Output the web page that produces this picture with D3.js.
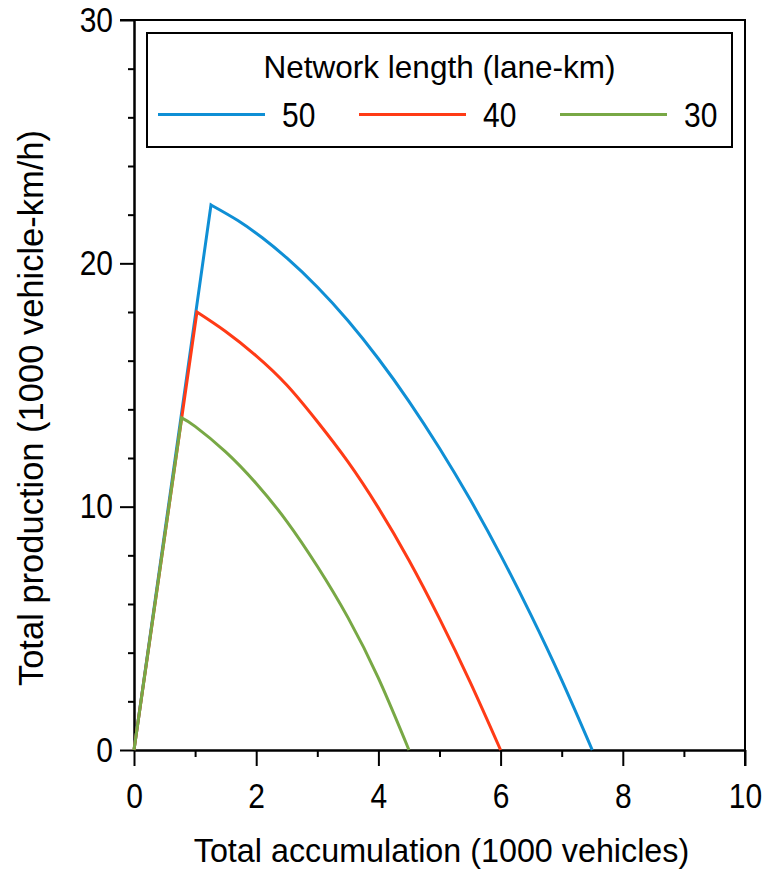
<!DOCTYPE html>
<html>
<head>
<meta charset="utf-8">
<script src="https://cdn.jsdelivr.net/npm/d3@7"></script>
<style>
  body { margin: 0; background: #fff; }
  svg { display: block; font-family: "Liberation Sans", Arial, sans-serif; }
  .digits { transform-box: fill-box; transform-origin: center; transform: scaleY(1.16); }
</style>
</head>
<body>
<div id="chart"></div>
<script>
// network length categories (lane-km)
const networkLengths = ["50", "40", "30"]
const seriesColors = ["#0f8fd5", "#ff3b16", "#78a845"]

// accumulation (1000 veh) / production (1000 veh-km/h)
const accum50 = [0, 1.26, 1.7, 2.1, 2.5, 3.0, 3.5, 4.0, 4.5, 5.0, 5.5, 6.0, 6.5, 7.0, 7.5]
const prod50 = [0, 22.4, 21.76, 21.05, 20.22, 19.03, 17.65, 16.08, 14.33, 12.4, 10.3, 8.01, 5.53, 2.87, 0]

const accum40 = [0, 1.03, 1.5, 2.0, 2.5, 3.0, 3.5, 4.0, 4.5, 5.0, 5.5, 6.0]
const prod40 = [0, 18.0, 17.2, 16.2, 15.0, 13.5, 11.85, 9.95, 7.8, 5.4, 2.8, 0]

const accum30 = [0, 0.78, 1.0, 1.5, 2.0, 2.5, 3.0, 3.5, 4.0, 4.5]
const prod30 = [0, 13.65, 13.3, 12.25, 10.95, 9.4, 7.55, 5.45, 2.95, 0]

const xTicks = [0, 2, 4, 6, 8, 10]
const xMinorTicks = [1, 3, 5, 7, 9]
const yTicks = [0, 10, 20, 30]
const yMinorTicks = [2, 4, 6, 8, 12, 14, 16, 18, 22, 24, 26, 28]

const legendTitle = "Network length (lane-km)"
const xTitle = "Total accumulation (1000 vehicles)"
const yTitle = "Total production (1000 vehicle-km/h)"

const width = 772
const height = 870
const margin = { top: 20, right: 27, bottom: 120, left: 134 }

const series = [
  { name: networkLengths[0], color: seriesColors[0], x: accum50, y: prod50 },
  { name: networkLengths[1], color: seriesColors[1], x: accum40, y: prod40 },
  { name: networkLengths[2], color: seriesColors[2], x: accum30, y: prod30 }
]

const svg = d3.select("#chart")
  .append("svg")
  .attr("width", width)
  .attr("height", height)

const x = d3.scaleLinear()
  .domain([0, 10])
  .range([margin.left, width - margin.right])

const y = d3.scaleLinear()
  .domain([0, 30])
  .range([height - margin.bottom, margin.top])

// frame on top and right (no ticks)
svg.append("path")
  .attr("d", `M${x(0) - 14},${y(30)}H${x(10)}V${y(0) + 16}`)
  .attr("fill", "none")
  .attr("stroke", "#000")
  .attr("stroke-width", 2)

const tickFont = "30px"

// x axis
const xAxis = svg.append("g")
  .attr("transform", `translate(0,${y(0)})`)
  .call(d3.axisBottom(x).tickValues(xTicks).tickSize(16).tickPadding(19).tickSizeOuter(0))
xAxis.append("g")
  .call(d3.axisBottom(x).tickValues(xMinorTicks).tickSize(7).tickFormat("").tickSizeOuter(0))

// y axis
const yAxis = svg.append("g")
  .attr("transform", `translate(${x(0)},0)`)
  .call(d3.axisLeft(y).tickValues(yTicks).tickSize(14).tickPadding(7).tickSizeOuter(0))
yAxis.append("g")
  .call(d3.axisLeft(y).tickValues(yMinorTicks).tickSize(6).tickFormat("").tickSizeOuter(0))

svg.selectAll(".domain, .tick line")
  .attr("stroke", "#000")
  .attr("stroke-width", 2)
svg.selectAll(".tick text")
  .attr("fill", "#000")
  .attr("class", "digits")
  .style("font-size", tickFont)
  .style("font-family", "'Liberation Sans', Arial, sans-serif")

// axis titles
svg.append("text")
  .attr("x", (x(0) + x(10)) / 2 + 2)
  .attr("y", 862)
  .attr("text-anchor", "middle")
  .style("font-size", "32.3px")
  .text(xTitle)

svg.append("text")
  .attr("transform", `translate(43,408) rotate(-90)`)
  .attr("text-anchor", "middle")
  .style("font-size", "34.5px")
  .text(yTitle)

// curves: straight rise to capacity, then smooth fall to jam
const rise = d3.line()
  .x(d => x(d[0]))
  .y(d => y(d[1]))
const fall = d3.line()
  .x(d => x(d[0]))
  .y(d => y(d[1]))
  .curve(d3.curveNatural)

const curveLayer = svg.append("g")
series.forEach(s => {
  const pts = s.x.map((v, i) => [v, s.y[i]])
  const d = rise(pts.slice(0, 2)) + fall(pts.slice(1)).replace(/^M/, "L")
  curveLayer.append("path")
    .attr("d", d)
    .attr("fill", "none")
    .attr("stroke", s.color)
    .attr("stroke-width", 3)
    .attr("stroke-linejoin", "miter")
})

// legend
const legend = svg.append("g")
legend.append("rect")
  .attr("x", 147)
  .attr("y", 33)
  .attr("width", 585)
  .attr("height", 114)
  .attr("fill", "#fff")
  .attr("stroke", "#000")
  .attr("stroke-width", 2)

legend.append("text")
  .attr("x", 147 + 585 / 2)
  .attr("y", 78)
  .attr("text-anchor", "middle")
  .style("font-size", "31.5px")
  .text(legendTitle)

const legendX = [158, 359, 560]
series.forEach((s, i) => {
  const g = legend.append("g")
    .attr("transform", `translate(${legendX[i]},114.5)`)
  g.append("line")
    .attr("x1", 0)
    .attr("x2", 107)
    .attr("stroke", s.color)
    .attr("stroke-width", 3)
  g.append("text")
    .attr("class", "digits")
    .attr("x", 124)
    .attr("y", 11)
    .style("font-size", tickFont)
    .text(s.name)
})
</script>
</body>
</html>
